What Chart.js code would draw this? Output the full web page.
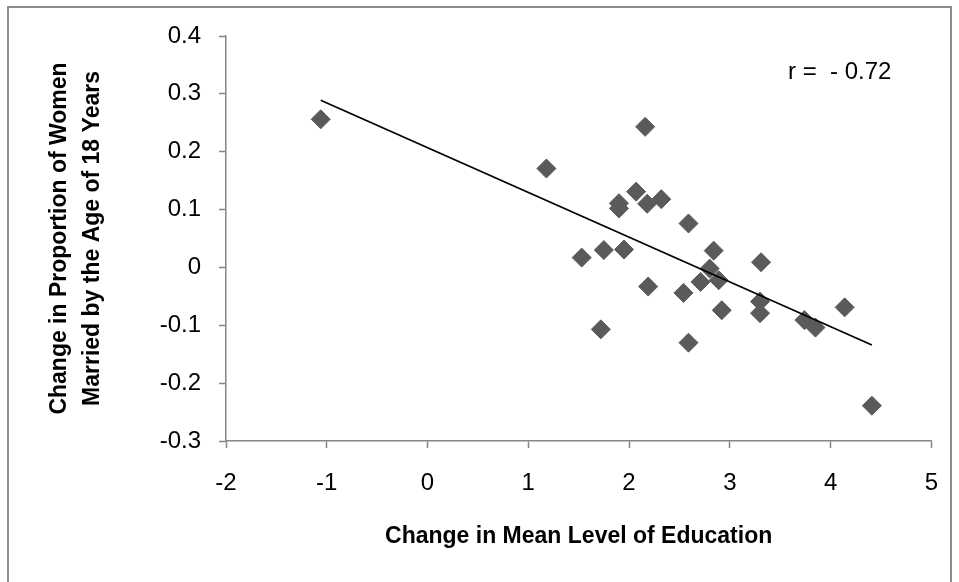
<!DOCTYPE html>
<html>
<head>
<meta charset="utf-8">
<script src="https://cdn.jsdelivr.net/npm/chart.js@4.4.1/dist/chart.umd.min.js"></script>
<style>
  html, body { margin: 0; padding: 0; background: #fff; overflow: hidden; }
  #container { position: relative; width: 959px; height: 582px; }
</style>
</head>
<body>
<div id="container"><canvas id="chart"></canvas></div>
<script>
// Change in mean level of education (x) against change in proportion of
// women married by 18 (y), one entry per country.
var educationChange = [
  -1.06, 1.18, 2.16, 2.07, 1.90, 1.90, 2.18, 2.32, 2.59, 1.53,
  1.75, 1.95, 2.84, 3.31, 2.80, 2.71, 2.89, 2.19, 2.54, 2.92,
  3.30, 3.30, 3.74, 3.85, 4.14, 4.41, 1.72, 2.59
];
var marriedChange = [
  0.256, 0.171, 0.243, 0.131, 0.111, 0.102, 0.110, 0.118, 0.076, 0.017,
  0.030, 0.031, 0.029, 0.009, -0.002, -0.025, -0.022, -0.033, -0.044, -0.074,
  -0.059, -0.079, -0.091, -0.104, -0.069, -0.239, -0.107, -0.130
];

// Linear trend line end points.
var trendX = [-1.06, 4.41];
var trendY = [0.289, -0.134];

var xRange = [-2, 5];
var yRange = [-0.3, 0.4];
var correlationLabel = 'r =  - 0.72';

var FONT = '"Liberation Sans", Arial, sans-serif';
var AXIS_GREY = '#868686';


function toPoints(xs, ys) {
  var out = [];
  for (var i = 0; i < xs.length; i++) {
    out.push({x: xs[i], y: ys[i]});
  }
  return out;
}


var framePlugin = {
  id: 'frame',
  beforeDraw: function(chart) {
    var ctx = chart.ctx;
    ctx.save();
    ctx.fillStyle = '#fff';
    ctx.fillRect(0, 0, chart.width, chart.height);
    // Outer chart border; the bottom edge runs off the page.
    ctx.strokeStyle = '#8c8c8c';
    ctx.lineWidth = 2;
    ctx.strokeRect(8, 7, 943, 640);
    ctx.restore();
  },
  afterDraw: function(chart) {
    var ctx = chart.ctx;
    ctx.save();
    ctx.fillStyle = '#000';
    ctx.font = '24px ' + FONT;
    ctx.textAlign = 'left';
    ctx.textBaseline = 'middle';
    ctx.fillText(correlationLabel, 788, 72);
    ctx.restore();
  }
};


document.addEventListener('DOMContentLoaded', function() {
  var ctx = document.getElementById('chart').getContext('2d');
  new Chart(ctx, {
    type: 'scatter',
    data: {
      datasets: [
        {
          label: 'Trend',
          data: toPoints(trendX, trendY),
          showLine: true,
          borderColor: '#000',
          borderWidth: 1.8,
          pointRadius: 0,
          fill: false,
        },
        {
          label: 'Countries',
          data: toPoints(educationChange, marriedChange),
          pointStyle: 'rectRot',
          pointRadius: 9.5,
          pointBackgroundColor: '#5a5a5a',
          pointBorderColor: '#5a5a5a',
          pointBorderWidth: 1,
        },
      ],
    },
    options: {
      responsive: true,
      maintainAspectRatio: false,
      animation: false,
      layout: {
        padding: {left: 0, top: 36, right: 27, bottom: 0},
      },
      plugins: {
        legend: {display: false},
        tooltip: {enabled: false},
      },
      scales: {
        x: {
          type: 'linear',
          min: xRange[0],
          max: xRange[1],
          afterFit: function(scale) { scale.height = 141; },
          border: {display: true, color: AXIS_GREY, width: 1.5},
          grid: {
            drawOnChartArea: false,
            drawTicks: true,
            tickLength: 7,
            tickColor: AXIS_GREY,
            tickWidth: 1.5,
          },
          ticks: {
            stepSize: 1,
            padding: 21,
            color: '#000',
            font: {family: FONT, size: 24},
          },
          title: {
            display: true,
            text: 'Change in Mean Level of Education',
            color: '#000',
            font: {family: FONT, size: 23, weight: 'bold'},
            padding: {top: 0, bottom: 32},
          },
        },
        y: {
          type: 'linear',
          min: yRange[0],
          max: yRange[1],
          afterFit: function(scale) { scale.width = 226; },
          border: {display: true, color: AXIS_GREY, width: 1.5},
          grid: {
            drawOnChartArea: false,
            drawTicks: true,
            tickLength: 7,
            tickColor: AXIS_GREY,
            tickWidth: 1.5,
          },
          ticks: {
            stepSize: 0.1,
            padding: 18,
            color: '#000',
            font: {family: FONT, size: 24},
            callback: function(value) {
              return String(Math.round(value * 10) / 10);
            },
          },
          title: {
            display: true,
            text: ['Change in Proportion of Women',
                   'Married by the Age of 18 Years'],
            color: '#000',
            font: {family: FONT, size: 23, weight: 'bold', lineHeight: 1.45},
            padding: {top: 43, bottom: 0},
          },
        },
      },
    },
    plugins: [framePlugin],
  });
});
</script>
</body>
</html>
